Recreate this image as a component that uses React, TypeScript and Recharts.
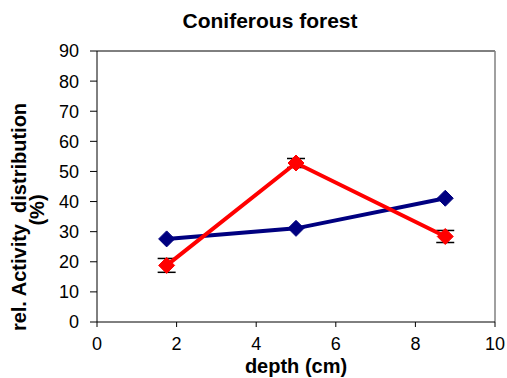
import { LineChart, Line, XAxis, YAxis, ReferenceLine, ErrorBar } from 'recharts';

const depths = [1.75, 5, 8.75];
const blueSeries = [27.6, 31.1, 41.1];
const redSeries = [18.8, 52.8, 28.4];
const redError = [2.3, 1.5, 2];
const xTicks = [0, 2, 4, 6, 8, 10];
const yTicks = [0, 10, 20, 30, 40, 50, 60, 70, 80, 90];

const data = depths.map((d, i) => ({
  depth: d,
  blue: blueSeries[i],
  red: redSeries[i],
  redErr: redError[i],
}));

const FONT = '"Liberation Sans", Arial, sans-serif';

const diamond = (color: string, r: number) => (props: any) => {
  const { cx, cy, index } = props;
  if (cx == null || cy == null) return <g key={index} />;
  return (
    <polygon
      key={index}
      points={`${cx},${cy - r} ${cx + r},${cy} ${cx},${cy + r} ${cx - r},${cy}`}
      fill={color}
      stroke={color}
    />
  );
};

const labelStyle = {
  position: 'absolute' as const,
  whiteSpace: 'pre' as const,
  fontSize: 20,
  fontWeight: 700,
};

export default function App() {
  return (
    <div style={{ position: 'absolute', left: 0, top: 0, width: 507, height: 378, background: '#fff', fontFamily: FONT, overflow: 'hidden' }}>
      <div style={{ position: 'absolute', left: 0, width: 540, top: 9, textAlign: 'center', fontSize: 21, fontWeight: 700 }}>
        Coniferous forest
      </div>
      <LineChart width={507} height={378} data={data} margin={{ top: 51, right: 12, bottom: 26, left: 47 }}>
        <XAxis
          dataKey="depth"
          type="number"
          domain={[0, 10]}
          ticks={xTicks}
          height={30}
          tickSize={5}
          tickMargin={10}
          stroke="#000"
          tick={{ fill: '#000', fontSize: 18, fontFamily: FONT }}
        />
        <YAxis
          type="number"
          domain={[0, 90]}
          ticks={yTicks}
          width={50}
          tickSize={7}
          tickMargin={11}
          stroke="#000"
          tick={{ fill: '#000', fontSize: 18, fontFamily: FONT }}
        />
        <ReferenceLine y={90} stroke="#000" />
        <ReferenceLine x={10} stroke="#808080" strokeWidth={1.5} />
        <Line
          dataKey="blue"
          stroke="#000080"
          strokeWidth={4}
          dot={diamond('#000080', 8)}
          isAnimationActive={false}
        />
        <Line
          dataKey="red"
          stroke="#FF0000"
          strokeWidth={4}
          dot={diamond('#FF0000', 8)}
          isAnimationActive={false}
        >
          <ErrorBar dataKey="redErr" direction="y" width={9} stroke="#000" strokeWidth={1.5} />
        </Line>
      </LineChart>
      <div style={{ ...labelStyle, left: 19, top: 217, transform: 'translate(-50%, -50%) rotate(-90deg)' }}>
        rel. Activity  distribution
      </div>
      <div style={{ ...labelStyle, left: 37, top: 210, transform: 'translate(-50%, -50%) rotate(-90deg)' }}>
        (%)
      </div>
      <div style={{ ...labelStyle, left: 296, top: 366, transform: 'translate(-50%, -50%)' }}>
        depth (cm)
      </div>
    </div>
  );
}
